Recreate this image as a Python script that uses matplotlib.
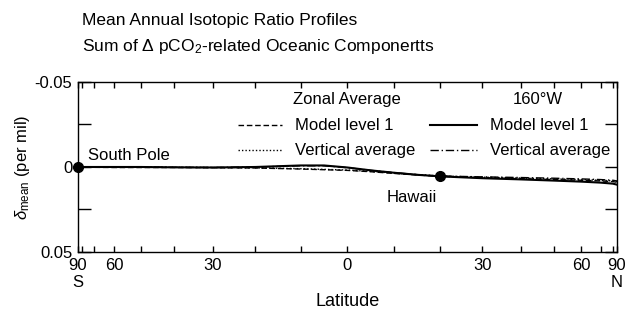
import numpy as np
import matplotlib
matplotlib.use("Agg")
import matplotlib.pyplot as plt
from matplotlib.ticker import FixedLocator

plt.rcParams['font.family'] = ['Liberation Sans', 'DejaVu Sans']
plt.rcParams['mathtext.fontset'] = 'custom'
plt.rcParams['mathtext.rm'] = 'Liberation Sans'
plt.rcParams['mathtext.it'] = 'Liberation Sans:italic'

# Latitude (deg, negative = south) and delta_mean (per mil)
lat = [-90, -80, -70, -60, -50, -40, -30, -20, -10, -5, 0, 5, 10, 15, 20,
       30, 40, 50, 60, 70, 80, 90]
zonal_level1 = [0.0, 0.0, 0.0002, 0.0003, 0.0003, 0.0003, 0.0004, 0.0006,
                0.0012, 0.0016, 0.0020, 0.0028, 0.0038, 0.0047, 0.0055,
                0.0063, 0.0069, 0.0074, 0.0078, 0.0082, 0.0086, 0.0090]
zonal_vertavg = [0.0, 0.0, 0.0001, 0.0002, 0.0002, 0.0002, 0.0003, 0.0005,
                 0.0010, 0.0014, 0.0018, 0.0026, 0.0036, 0.0045, 0.0053,
                 0.0060, 0.0065, 0.0070, 0.0074, 0.0078, 0.0082, 0.0086]
w160_level1 = [0.0, 0.0, 0.0, 0.0, 0.0, 0.0002, 0.0003, 0.0, -0.0009,
               -0.0009, 0.0003, 0.0020, 0.0034, 0.0046, 0.0055,
               0.0066, 0.0073, 0.0080, 0.0086, 0.0092, 0.0098, 0.0104]
w160_vertavg = [0.0, 0.0, 0.0, 0.0, 0.0, 0.0002, 0.0003, 0.0, -0.0007,
                -0.0007, 0.0004, 0.0020, 0.0033, 0.0045, 0.0053,
                0.0058, 0.0062, 0.0066, 0.0070, 0.0074, 0.0078, 0.0082]

hawaii_lat = 20
hawaii_val = 0.0055

tick_pos = [-90, -60, -30, 0, 30, 60, 90]
tick_lab = ["90\nS", "60", "30", "0", "30", "60", "90\nN"]


def fwd(x):
    return np.sin(np.radians(x))


def inv(y):
    return np.degrees(np.arcsin(np.clip(y, -1, 1)))


fig = plt.figure(figsize=(6.26, 3.22), dpi=100)
ax = fig.add_axes([0.1246, 0.2174, 0.861, 0.528])
ax.set_xscale('function', functions=(fwd, inv))

ax.plot(lat, zonal_level1, color='black', lw=1.0, ls=(0, (4, 2)))
ax.plot(lat, zonal_vertavg, color='black', lw=1.0, ls=(0, (1, 1.5)))
ax.plot(lat, w160_level1, color='black', lw=1.5, ls='-')
ax.plot(lat, w160_vertavg, color='black', lw=1.0, ls=(0, (6, 2, 1, 2)))

ax.plot([-90], [0], 'o', color='black', ms=7, clip_on=False, zorder=5)
ax.plot([hawaii_lat], [hawaii_val], 'o', color='black', ms=7, zorder=5)

ax.set_xlim(-90, 90)
ax.set_ylim(0.05, -0.05)

ax.xaxis.set_major_locator(FixedLocator(tick_pos))
ax.set_xticklabels(tick_lab)
ax.xaxis.set_minor_locator(FixedLocator(list(range(-80, 90, 10))))
ax.set_yticks([-0.05, 0, 0.05])
ax.set_yticklabels(["-0.05", "0", "0.05"])
ax.yaxis.set_minor_locator(FixedLocator([-0.025, 0.025]))

ax.tick_params(axis='x', which='both', direction='in', top=True, length=4,
               width=1, labelsize=12, pad=4)
ax.tick_params(axis='y', which='both', direction='in', right=True, length=9,
               width=1, labelsize=12, pad=4)
for s in ax.spines.values():
    s.set_linewidth(1.0)

ax.set_xlabel("Latitude", fontsize=13, labelpad=2)
ax.set_ylabel(r"$\delta_{\rm mean}$ (per mil)", fontsize=12, labelpad=2)

fig.text(0.131, 0.935, "Mean Annual Isotopic Ratio Profiles", fontsize=12.5,
         va='center')
fig.text(0.131, 0.855, r"Sum of $\Delta$ pCO$_2$-related Oceanic Componertts",
         fontsize=12.5, va='center')

# legend drawn by hand, as in the original
fig.text(293 / 626, 1 - 100 / 322, "Zonal Average", fontsize=12, va='center')
fig.text(538 / 626, 1 - 100 / 322, "160°W", fontsize=12, va='center',
         ha='center')

legend_rows = [
    (238, 282, 295, 125, (0, (4, 2)), 1.0, "Model level 1"),
    (238, 282, 295, 150, (0, (1, 1.5)), 1.0, "Vertical average"),
    (430, 477, 490, 125, '-', 1.5, "Model level 1"),
    (430, 477, 490, 150, (0, (6, 2, 1, 2)), 1.0, "Vertical average"),
]
for x0, x1, xt, y, ls, lw, lab in legend_rows:
    fig.add_artist(plt.Line2D([x0 / 626, x1 / 626], [1 - y / 322, 1 - y / 322],
                              color='black', ls=ls, lw=lw))
    fig.text(xt / 626, 1 - y / 322, lab, fontsize=12, va='center')

fig.text(88 / 626, 1 - 156 / 322, "South Pole", fontsize=12, va='center')
fig.text(412 / 626, 1 - 198 / 322, "Hawaii", fontsize=12, va='center',
         ha='center')

fig.savefig("out.png", dpi=100)
